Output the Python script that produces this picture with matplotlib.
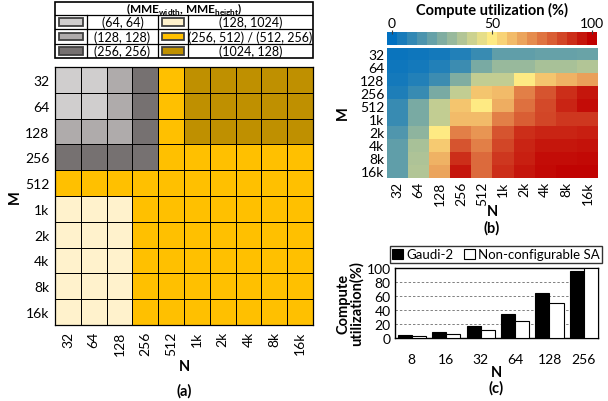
import numpy as np
import matplotlib
matplotlib.use("Agg")
import matplotlib.pyplot as plt
from matplotlib.colors import ListedColormap, LinearSegmentedColormap
from matplotlib.patches import Rectangle, Patch

plt.rcParams['font.family'] = ['Lato', 'DejaVu Sans']
plt.rcParams['mathtext.fontset'] = 'custom'
plt.rcParams['mathtext.rm'] = 'Lato'
plt.rcParams['mathtext.bf'] = 'Lato:bold'

# ---------------- data ----------------
sizes = ["32", "64", "128", "256", "512", "1k", "2k", "4k", "8k", "16k"]

# (a) MME configuration per (M, N); index into config lists
config_labels = ["(64, 64)", "(128, 128)", "(256, 256)",
                 "(128, 1024)", "(256, 512) / (512, 256)", "(1024, 128)"]
config_colors = ["#D0CECE", "#AFABAB", "#767171", "#FFF2CC", "#FFC000", "#BF9000"]
config_grid = [
    [0, 0, 1, 2, 4, 5, 5, 5, 5, 5],
    [0, 0, 1, 2, 4, 5, 5, 5, 5, 5],
    [1, 1, 1, 2, 4, 5, 5, 5, 5, 5],
    [2, 2, 2, 2, 4, 4, 4, 4, 4, 4],
    [4, 4, 4, 4, 4, 4, 4, 4, 4, 4],
    [3, 3, 3, 4, 4, 4, 4, 4, 4, 4],
    [3, 3, 3, 4, 4, 4, 4, 4, 4, 4],
    [3, 3, 3, 4, 4, 4, 4, 4, 4, 4],
    [3, 3, 3, 4, 4, 4, 4, 4, 4, 4],
    [3, 3, 3, 4, 4, 4, 4, 4, 4, 4],
]

# (b) compute utilization (%) per (M, N)
util = [
    [2, 3, 4, 7, 11, 19, 19, 20, 20, 21],
    [3, 4, 7, 12, 24, 30, 30, 33, 33, 35],
    [4, 7, 12, 25, 38, 38, 50, 58, 62, 66],
    [6, 11, 24, 38, 58, 60, 73, 82, 90, 95],
    [11, 24, 38, 58, 50, 63, 76, 84, 92, 97],
    [11, 24, 38, 60, 60, 73, 80, 85, 88, 88],
    [16, 28, 50, 73, 68, 82, 90, 92, 92, 93],
    [19, 33, 57, 82, 73, 85, 92, 95, 95, 96],
    [19, 34, 62, 90, 77, 88, 93, 97, 97, 98],
    [19, 35, 65, 95, 77, 90, 95, 98, 99, 99],
]
cbar_ticks = [0, 50, 100]

# (c) bar chart
c_cats = ["8", "16", "32", "64", "128", "256"]
gaudi = [4, 8, 17, 34, 65, 96]
nonconf = [3, 6, 12, 25, 50, 100]

# ---------------- figure ----------------
W, H = 608, 402
fig = plt.figure(figsize=(W / 100, H / 100), dpi=100)


def ax_px(x0, y0, x1, y1):
    return fig.add_axes([x0 / W, 1 - y1 / H, (x1 - x0) / W, (y1 - y0) / H])


def ftxt(x, y, s, **kw):
    fig.text(x / W, 1 - y / H, s, ha='center', va='center', **kw)


FS = 10

# ---- (a) grid ----
axa = ax_px(55, 68, 313, 326)
cmap_a = ListedColormap(config_colors)
axa.pcolormesh(np.array(config_grid), cmap=cmap_a, vmin=-0.5, vmax=5.5,
               edgecolors='black', linewidth=0.7)
axa.set_xlim(0, 10)
axa.set_ylim(10, 0)
axa.set_xticks(np.arange(10) + 0.5)
axa.set_xticklabels(sizes, rotation=90, fontsize=FS)
axa.set_yticks(np.arange(10) + 0.5)
axa.set_yticklabels(sizes, fontsize=FS)
axa.tick_params(length=0, pad=4)
for s in axa.spines.values():
    s.set_linewidth(0.9)
ftxt(15, 197, "M", fontsize=10.5, fontweight='bold', rotation=90)
ftxt(184, 367, "N", fontsize=10.5, fontweight='bold')
ftxt(184, 391, "(a)", fontsize=10.5, fontweight='bold')

# ---- (a) legend table ----
axl = ax_px(55, 3, 313, 59)
axl.set_xlim(0, 258)
axl.set_ylim(56, 0)
axl.axis('off')
axl.add_patch(Rectangle((0, 0), 258, 56, fill=False, edgecolor='black', lw=1.2, clip_on=False))
title_h = 13
row_h = (56 - title_h) / 3
axl.plot([0, 258], [title_h, title_h], color='black', lw=0.9)
for r in range(1, 3):
    axl.plot([0, 258], [title_h + r * row_h] * 2, color='black', lw=0.9)
col_b = [0, 32, 103, 133, 258]
for xb in col_b[1:-1]:
    axl.plot([xb, xb], [title_h, 56], color='black', lw=0.9)
axl.text(129, title_h / 2 + 0.6, r"(MME$_{\mathbf{width}}$, MME$_{\mathbf{height}}$)",
         ha='center', va='center', fontsize=8.5, fontweight='bold')
for i, (lab, col) in enumerate(zip(config_labels, config_colors)):
    c = i // 3
    r = i % 3
    y0 = title_h + r * row_h
    sx0, sx1 = col_b[2 * c], col_b[2 * c + 1]
    tx0, tx1 = col_b[2 * c + 1], col_b[2 * c + 2]
    axl.add_patch(Rectangle((sx0 + 4, y0 + 3.2), (sx1 - sx0) - 8, row_h - 6.4,
                            facecolor=col, edgecolor='#404040', lw=1.3))
    axl.text((tx0 + tx1) / 2, y0 + row_h / 2, lab, ha='center', va='center', fontsize=9)

# ---- (b) heatmap ----
cmap_b = LinearSegmentedColormap.from_list("util", ["#0070C0", "#FFEB84", "#C00000"])
axb = ax_px(387, 49, 598, 179)
axb.imshow(np.array(util), cmap=cmap_b, vmin=0, vmax=100, aspect='auto',
           interpolation='nearest')
axb.set_xticks(np.arange(10))
axb.set_xticklabels(sizes, rotation=90, fontsize=FS)
axb.set_yticks(np.arange(10))
axb.set_yticklabels(sizes, fontsize=FS)
axb.tick_params(length=0, pad=2)
for s in axb.spines.values():
    s.set_visible(False)
ftxt(343, 113, "M", fontsize=10.5, fontweight='bold', rotation=90)
ftxt(492, 212, "N", fontsize=10.5, fontweight='bold')
ftxt(492, 228, "(b)", fontsize=10.5, fontweight='bold')

# colorbar (21 discrete steps)
axc = ax_px(387, 33, 597, 46)
steps = np.arange(0, 101, 5)
axc.imshow(steps[np.newaxis, :], cmap=cmap_b, vmin=0, vmax=100, aspect='auto',
           extent=(-2.5, 102.5, 0, 1), interpolation='nearest')
axc.set_xlim(-2.5, 102.5)
axc.set_yticks([])
axc.xaxis.tick_top()
axc.set_xticks(cbar_ticks)
axc.set_xticklabels([str(t) for t in cbar_ticks], fontsize=FS)
axc.tick_params(axis='x', length=3, width=0.8, color='#404040', pad=1, direction='inout')
for s in axc.spines.values():
    s.set_visible(False)
ftxt(492, 10, "Compute utilization (%)", fontsize=10.5, fontweight='bold')

# ---- (c) bar chart ----
axd = ax_px(395, 269, 598, 339)
x = np.arange(len(c_cats))
bw = 0.41
axd.bar(x - bw / 2, gaudi, bw, color='black', edgecolor='black', lw=0.8, label='Gaudi-2', zorder=3)
axd.bar(x + bw / 2, nonconf, bw, color='white', edgecolor='black', lw=0.8,
        label='Non-configurable SA', zorder=3)
axd.set_xlim(-0.49, 5.41)
axd.set_ylim(0, 100)
axd.set_yticks([0, 20, 40, 60, 80, 100])
axd.yaxis.grid(True, linestyle=(0, (2.5, 2)), color='#808080', lw=0.7, zorder=0)
axd.set_xticks(x)
axd.set_xticklabels(c_cats, fontsize=FS)
axd.tick_params(axis='y', labelsize=FS, length=0, pad=3)
axd.tick_params(axis='x', length=0, pad=11)
for s in axd.spines.values():
    s.set_linewidth(1.0)
ftxt(350, 304, "Compute\nutilization(%)", fontsize=10.5, fontweight='bold', rotation=90,
     linespacing=0.95)
ftxt(496, 373, "N", fontsize=10.5, fontweight='bold')
ftxt(496, 388, "(c)", fontsize=10.5, fontweight='bold')

handles = [Patch(facecolor='black', edgecolor='black', lw=0.8, label='Gaudi-2'),
           Patch(facecolor='white', edgecolor='black', lw=0.8, label='Non-configurable SA')]
leg = fig.legend(handles=handles, ncol=2, loc='center',
                 bbox_to_anchor=(496 / W, 1 - 255.5 / H),
                 fontsize=9.5, frameon=True, fancybox=False, edgecolor='black',
                 handlelength=0.8, handleheight=0.8, handletextpad=0.25, columnspacing=0.8,
                 borderpad=0.2, borderaxespad=0)
leg.get_frame().set_linewidth(1.0)

fig.savefig("out.png", dpi=100)
